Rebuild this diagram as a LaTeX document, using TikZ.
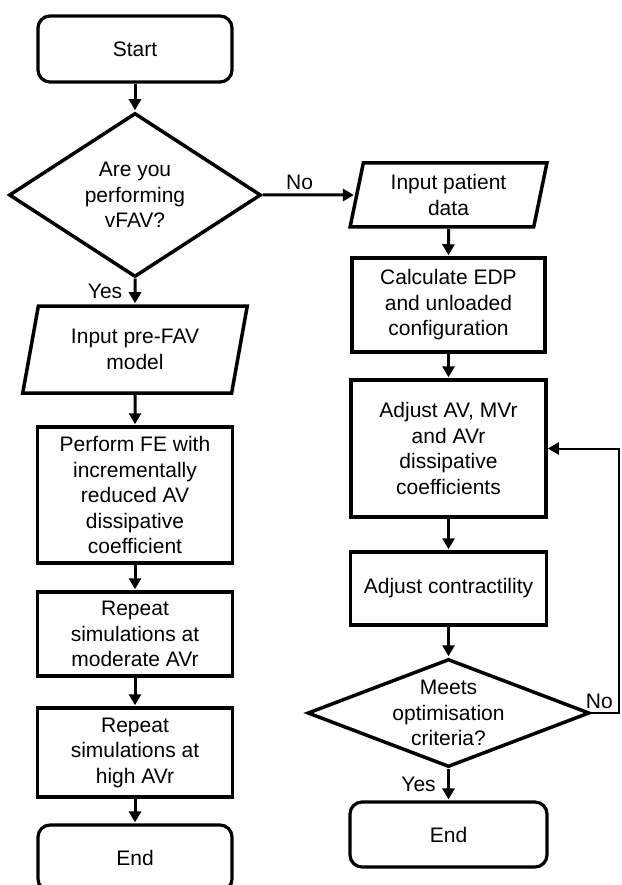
\documentclass[tikz,border=0pt]{standalone}
\usepackage{fontspec}
\setmainfont{Liberation Sans}
\usetikzlibrary{shapes.geometric, arrows.meta}

\tikzset{
  txt/.style={align=center, font=\fontsize{21}{25.5}\selectfont},
  endbox/.style={txt, draw, line width=3.2pt, rounded corners=12pt, minimum width=194pt, minimum height=66pt},
  procbox/.style={txt, draw, line width=3.5pt, minimum width=195pt, inner sep=1pt},
  iobox/.style={txt, draw, line width=3.5pt, trapezium, trapezium left angle=76, trapezium right angle=104, trapezium stretches=true, inner sep=1pt},
  decide/.style={draw, line width=3.5pt, diamond, inner sep=0pt},
  flow/.style={line width=3pt, shorten >=1pt, -{Triangle[length=11pt,width=12pt]}},
  lbl/.style={font=\fontsize{21}{24}\selectfont}
}

\begin{document}
\begin{tikzpicture}[x=1pt, y=1pt]
    \useasboundingbox (0,0) rectangle (621,-885);
    % left column
    \node[endbox] (start) at (135,-49) {Start};
    \node[decide, minimum width=252pt, minimum height=164pt,
          label={[txt]center:Are you\\performing\\vFAV?}] (vfav) at (135,-195) {};
    \node[iobox, minimum width=225pt, minimum height=87pt] (prefav) at (135,-349.5) {Input pre-FAV\\model};
    \node[procbox, minimum height=136pt] (perform) at (135,-495) {Perform FE with\\incrementally\\reduced AV\\dissipative\\coefficient};
    \node[procbox, minimum height=84pt] (moderate) at (135,-634) {Repeat\\simulations at\\moderate AVr};
    \node[procbox, minimum height=89pt] (high) at (135,-752.5) {Repeat\\simulations at\\high AVr};
    \node[endbox] (endleft) at (135,-858) {End};
    % right column
    \node[iobox, trapezium left angle=78, trapezium right angle=102, minimum width=197pt, minimum height=64pt] (patient) at (448.5,-195) {Input patient\\data};
    \node[procbox, minimum width=193pt, minimum height=94pt] (edp) at (448.5,-305) {Calculate EDP\\and unloaded\\configuration};
    \node[procbox, minimum height=137pt] (adjav) at (448.5,-448.5) {Adjust AV, MVr\\and AVr\\dissipative\\coefficients};
    \node[procbox, minimum width=196pt, minimum height=73pt] (contract) at (448.5,-588.5) {Adjust contractility};
    \node[decide, minimum width=282pt, minimum height=108pt,
          label={[txt]center:Meets\\optimisation\\criteria?}] (optim) at (448.5,-713) {};
    \node[endbox, minimum width=197pt, minimum height=65pt] (endright) at (448.5,-834.5) {End};

    % connectors
    \draw[flow] (start) -- (vfav);
    \draw[flow] (vfav) -- node[lbl, left, xshift=-8pt] {Yes} (prefav);
    \draw[flow] (prefav) -- (perform);
    \draw[flow] (perform) -- (moderate);
    \draw[flow] (moderate) -- (high);
    \draw[flow] (high) -- (endleft);
    \draw[flow] (vfav.east) -- node[lbl, above, pos=0.4] {No} (patient.west);
    \draw[flow] (patient) -- (edp);
    \draw[flow] (edp) -- (adjav);
    \draw[flow] (adjav) -- (contract);
    \draw[flow] (contract) -- (optim);
    \draw[flow] (optim) -- node[lbl, left, xshift=-8pt] {Yes} (endright);
    \draw[line width=2pt, -{Triangle[length=11pt,width=12pt]}] (optim.east) -- node[lbl, above, xshift=-6pt] {No} ++(28,0) |- (adjav.east);
\end{tikzpicture}
\end{document}
